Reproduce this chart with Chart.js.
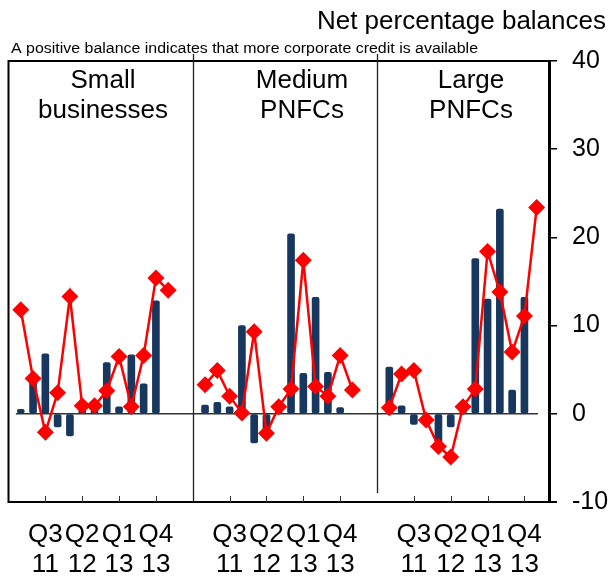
<!DOCTYPE html>
<html><head><meta charset="utf-8">
<script src="https://cdn.jsdelivr.net/npm/chart.js@4.4.1/dist/chart.umd.min.js"></script>
<style>html,body{margin:0;padding:0;background:#fff}#c{display:block}</style>
</head><body>
<canvas id="c" width="611" height="578"></canvas>
<script>
// ---- data ----
const quarters = ['Q1 11','Q2 11','Q3 11','Q4 11','Q1 12','Q2 12','Q3 12','Q4 12','Q1 13','Q2 13','Q3 13','Q4 13','Q1 14'];
const xTickQuarters = ['Q3 11','Q2 12','Q1 13','Q4 13'];
const panelTitles = [['Small','businesses'],['Medium','PNFCs'],['Large','PNFCs']];
const smallBars  = [0.5, 3.8, 6.8, -1.5, -2.5, 0.4, 0.4, 5.8, 0.8, 6.7, 3.4, 12.8];
const smallLine  = [11.8, 4.0, -2.1, 2.4, 13.3, 0.9, 0.9, 2.6, 6.5, 0.8, 6.6, 15.4, 14.0];
const mediumBars = [1.0, 1.3, 0.8, 10.0, -3.3, -2.0, 0.5, 20.4, 4.6, 13.2, 4.7, 0.7];
const mediumLine = [3.3, 4.9, 2.0, 0.1, 9.3, -2.2, 0.8, 2.8, 17.4, 3.1, 2.0, 6.6, 2.7];
const largeBars  = [5.3, 0.9, -1.2, -0.8, -3.3, -1.5, 0.6, 17.6, 13.0, 23.2, 2.7, 13.2];
const largeLine  = [0.7, 4.5, 4.9, -0.7, -3.7, -4.9, 0.8, 2.8, 18.4, 13.8, 7.0, 11.1, 23.4];
const yTicks = [-10, 0, 10, 20, 30, 40];
const titleText = 'Net percentage balances';
const subtitleText = 'A positive balance indicates that more corporate credit is available';

// ---- build combined slot axis ----
const panels = [
  {bars: smallBars, line: smallLine},
  {bars: mediumBars, line: mediumLine},
  {bars: largeBars, line: largeLine}
];
const labels = [], barData = [], lineData = [], qIndex = [], dividerIdx = [];
function pushGap(){ labels.push(''); barData.push(null); lineData.push(null); qIndex.push(-1); }
pushGap();
panels.forEach((p, k) => {
  if (k > 0) { pushGap(); dividerIdx.push(labels.length); pushGap(); }
  quarters.forEach((q, i) => {
    labels.push(q);
    barData.push(i < p.bars.length ? p.bars[i] : null);
    lineData.push(p.line[i]);
    qIndex.push(i);
  });
});
pushGap();

const FONT = "'Liberation Sans', Arial, Helvetica, sans-serif";

const decor = {
  id: 'decor',
  beforeDatasetsDraw(chart) {
    const {ctx, scales: {x, y}} = chart;
    ctx.save();
    const y0 = y.getPixelForValue(0);
    ctx.strokeStyle = '#333';
    ctx.lineWidth = 1.5;
    ctx.beginPath();
    ctx.moveTo(x.getPixelForValue(0.6), y0);
    ctx.lineTo(x.getPixelForValue(labels.length - 1.9), y0);
    ctx.stroke();
    ctx.restore();
  },
  afterDraw(chart) {
    const {ctx, chartArea: a, scales: {x, y}} = chart;
    ctx.save();
    // frame
    ctx.strokeStyle = '#000';
    ctx.lineWidth = 2;
    ctx.strokeRect(a.left, a.top, a.right - a.left, a.bottom - a.top);
    // dividers
    ctx.lineWidth = 1.3;
    ctx.strokeStyle = '#222';
    dividerIdx.forEach((idx, k) => {
      const px = Math.round(x.getPixelForValue(idx)) + 0.5;
      ctx.beginPath();
      ctx.moveTo(px, 54);
      ctx.lineTo(px, k === 0 ? a.bottom : a.bottom - 9);
      ctx.stroke();
    });
    // inward x ticks
    ctx.lineWidth = 1;
    ctx.strokeStyle = '#333';
    for (let i = 3; i < labels.length - 1; i += 3) {
      if (dividerIdx.includes(i)) continue;
      const px = Math.round(x.getPixelForValue(i)) + 0.5;
      ctx.beginPath();
      ctx.moveTo(px, a.bottom);
      ctx.lineTo(px, a.bottom - 6);
      ctx.stroke();
    }
    // bottom border extends to the -10 tick
    ctx.lineWidth = 2;
    ctx.strokeStyle = '#000';
    ctx.beginPath();
    ctx.moveTo(a.right, a.bottom);
    ctx.lineTo(a.right + 8, a.bottom);
    ctx.stroke();
    // texts
    ctx.fillStyle = '#000';
    ctx.textBaseline = 'alphabetic';
    ctx.font = '26px ' + FONT;
    ctx.textAlign = 'right';
    ctx.fillText(titleText, 606, 29);
    // subtitle (slightly widened like the reference)
    ctx.font = '14px ' + FONT;
    ctx.textAlign = 'left';
    const w = ctx.measureText(subtitleText).width;
    ctx.save();
    ctx.translate(11, 52.5);
    ctx.scale(467 / w, 1);
    ctx.fillText(subtitleText, 0, 0);
    ctx.restore();
    ctx.font = '26px ' + FONT;
    ctx.textAlign = 'center';
    const cx = [103, 302, 471];
    panelTitles.forEach((t, k) => {
      ctx.fillText(t[0], cx[k], 88);
      ctx.fillText(t[1], cx[k], 118);
    });
    ctx.restore();
  }
};

new Chart(document.getElementById('c'), {
  data: {
    labels: labels,
    datasets: [
      {
        type: 'line',
        data: lineData,
        order: 0,
        borderColor: '#ff0000',
        backgroundColor: '#ff0000',
        borderWidth: 2.5,
        pointStyle: 'rectRot',
        pointRadius: 8.5,
        pointHoverRadius: 8.5,
        pointBorderWidth: 0,
        pointBackgroundColor: '#ff0000',
        tension: 0,
        spanGaps: false
      },
      {
        type: 'bar',
        data: barData,
        order: 1,
        backgroundColor: '#17375e',
        barThickness: 7,
        borderRadius: 2,
        borderSkipped: false
      }
    ]
  },
  options: {
    responsive: false,
    animation: false,
    devicePixelRatio: 1,
    layout: {padding: {left: 8, top: 61, right: 0, bottom: 0}},
    plugins: {legend: {display: false}, tooltip: {enabled: false}, title: {display: false}},
    scales: {
      x: {
        type: 'category',
        offset: false,
        grid: {display: false, drawTicks: false},
        border: {display: true, color: '#000', width: 2},
        afterFit: (s) => { s.height = 76; s.paddingLeft = 0; s.paddingRight = 0; },
        ticks: {
          autoSkip: false,
          maxRotation: 0,
          minRotation: 0,
          padding: 18,
          color: '#000',
          font: {family: FONT, size: 26, lineHeight: 1.15},
          callback: function(value, index) {
            const q = labels[index];
            return xTickQuarters.includes(q) ? q.split(' ') : '';
          }
        }
      },
      y: {
        position: 'right',
        min: -10,
        max: 40,
        afterFit: (s) => { s.width = 62; },
        afterBuildTicks: (s) => { s.ticks = yTicks.map(v => ({value: v})); },
        grid: {display: true, drawOnChartArea: false, drawTicks: true, tickLength: 8, color: '#000', lineWidth: 1.5},
        border: {display: true, color: '#000', width: 3},
        ticks: {
          padding: 15,
          color: '#000',
          font: {family: FONT, size: 25}
        }
      }
    }
  },
  plugins: [decor]
});
</script>
</body></html>
